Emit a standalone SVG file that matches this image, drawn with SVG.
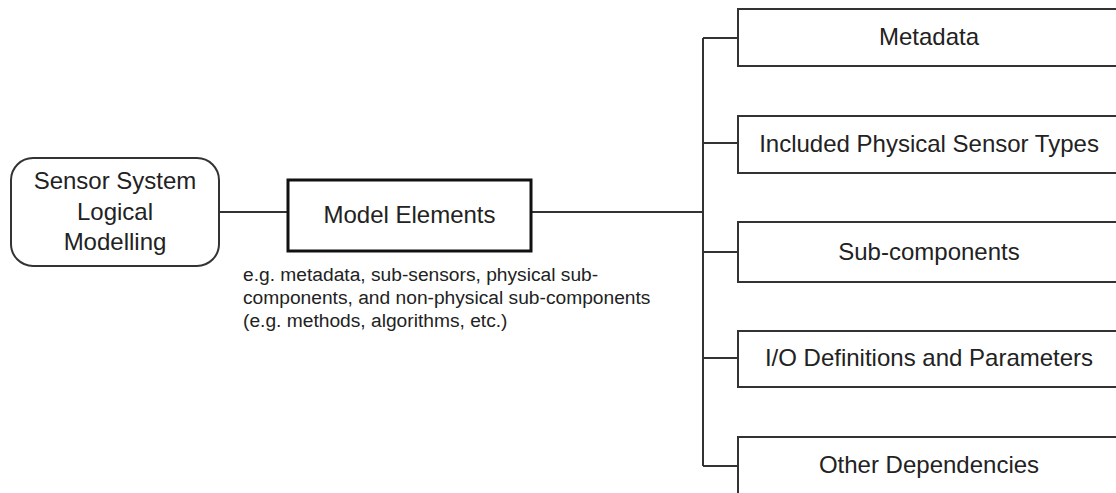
<svg xmlns="http://www.w3.org/2000/svg" width="1116" height="493" viewBox="0 0 1116 493">
<style>
text{font-family:"Liberation Sans",Arial,sans-serif;fill:#222;}
.big{font-size:24px;text-anchor:middle;}
.cap{font-size:19.2px;}
.box{fill:#fff;stroke:#333;stroke-width:2;}
.conn{fill:none;stroke:#333;stroke-width:2;}
</style>
<rect width="1116" height="493" fill="#fff"/>
<g id="connectors">
<line class="conn" x1="219" y1="212" x2="288" y2="212"/>
<line class="conn" x1="531" y1="212" x2="703" y2="212"/>
<line class="conn" x1="703" y1="38" x2="703" y2="466"/>
<line class="conn" x1="703" y1="38" x2="738" y2="38"/>
<line class="conn" x1="703" y1="143" x2="738" y2="143"/>
<line class="conn" x1="703" y1="252" x2="738" y2="252"/>
<line class="conn" x1="703" y1="358" x2="738" y2="358"/>
<line class="conn" x1="703" y1="466" x2="738" y2="466"/>
</g>
<g id="sensor-system">
<rect class="box" x="11" y="158" width="208" height="108" rx="22" ry="22"/>
<text class="big" x="115" y="189">Sensor System</text>
<text class="big" x="115" y="220">Logical</text>
<text class="big" x="115" y="250">Modelling</text>
</g>
<g id="model-elements">
<rect x="288" y="180" width="243" height="71" fill="#fff" stroke="#111" stroke-width="3"/>
<text class="big" x="409.5" y="223">Model Elements</text>
</g>
<g id="caption">
<text class="cap" x="243" y="281">e.g. metadata, sub-sensors, physical sub-</text>
<text class="cap" x="243" y="304">components, and non-physical sub-components</text>
<text class="cap" x="243" y="327">(e.g. methods, algorithms, etc.)</text>
</g>
<g id="metadata">
<rect class="box" x="738" y="9" width="384" height="57"/>
<text class="big" x="929" y="45">Metadata</text>
</g>
<g id="physical-sensor-types">
<rect class="box" x="738" y="116" width="384" height="57"/>
<text class="big" x="929" y="152">Included Physical Sensor Types</text>
</g>
<g id="sub-components">
<rect class="box" x="738" y="222" width="384" height="60"/>
<text class="big" x="929" y="260">Sub-components</text>
</g>
<g id="io-definitions">
<rect class="box" x="738" y="331" width="384" height="56"/>
<text class="big" x="929" y="366">I/O Definitions and Parameters</text>
</g>
<g id="other-dependencies">
<rect class="box" x="738" y="437" width="384" height="62"/>
<text class="big" x="929" y="473">Other Dependencies</text>
</g>
</svg>
